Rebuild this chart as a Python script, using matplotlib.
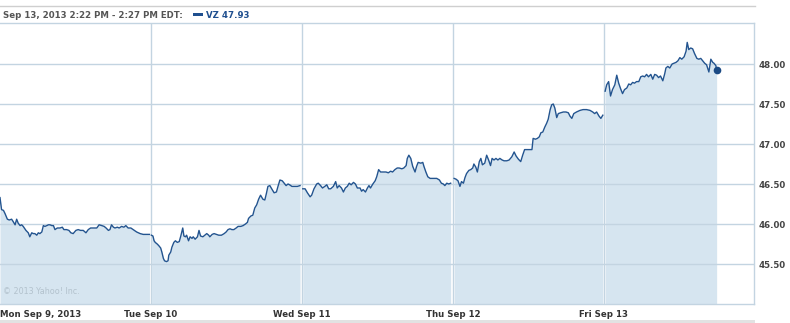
import matplotlib
matplotlib.use("Agg")
import matplotlib.pyplot as plt
from matplotlib.lines import Line2D
from matplotlib.patches import Rectangle

# ---- data: minutes after 9:30 open for each trading day, and VZ price ----
day_labels = ["Mon Sep 9, 2013", "Tue Sep 10", "Wed Sep 11", "Thu Sep 12", "Fri Sep 13"]
session_minutes = 390

mon_min = [0, 4, 9, 13, 19, 24, 30, 34, 39, 43, 47, 52, 56, 60, 67, 73, 77, 82, 86, 90,
           95, 99, 103, 108, 112, 116, 121, 125, 129, 134, 138, 142, 148, 155, 161, 165, 172, 178, 183, 189,
           196, 202, 208, 215, 222, 228, 234, 241, 250, 256, 263, 269, 274, 280, 284, 288, 293, 297, 303, 308,
           314, 320, 325, 331, 338, 344, 353, 362, 370, 379, 386]
mon_px = [46.33, 46.18, 46.17, 46.13, 46.06, 46.05, 46.06, 46.03, 45.99, 46.06,
          46.01, 45.98, 45.99, 45.97, 45.92, 45.89, 45.84, 45.89, 45.88, 45.88,
          45.86, 45.89, 45.88, 45.90, 45.98, 45.97, 45.98, 45.99, 45.99, 45.98,
          45.98, 45.93, 45.95, 45.95, 45.96, 45.93, 45.93, 45.92, 45.89, 45.88,
          45.92, 45.93, 45.92, 45.92, 45.89, 45.93, 45.95, 45.95, 45.95, 45.99,
          45.98, 45.97, 45.95, 45.92, 45.93, 45.99, 45.96, 45.95, 45.96, 45.95,
          45.97, 45.96, 45.98, 45.95, 45.95, 45.93, 45.90, 45.88, 45.87, 45.87, 45.87]

tue_min = [1, 5, 8, 11, 16, 20, 25, 28, 32, 35, 40, 44, 46, 51, 54, 59, 63, 68, 73, 77,
           82, 85, 89, 92, 97, 101, 106, 109, 114, 120, 124, 128, 134, 139, 144, 149, 152, 158, 163, 169,
           175, 182, 189, 194, 199, 204, 209, 214, 220, 225, 232, 238, 244, 249, 252, 258, 263, 268, 273, 278,
           283, 289, 294, 298, 302, 307, 313, 318, 324, 328, 333, 339, 344, 349, 354, 358, 364, 371, 378, 385]
tue_px = [45.86, 45.85, 45.79, 45.77, 45.75, 45.73, 45.70, 45.65, 45.57, 45.54,
          45.53, 45.54, 45.61, 45.65, 45.71, 45.77, 45.79, 45.77, 45.78, 45.85,
          45.95, 45.85, 45.84, 45.86, 45.79, 45.84, 45.82, 45.84, 45.81, 45.84,
          45.92, 45.85, 45.84, 45.86, 45.88, 45.86, 45.84, 45.87, 45.88, 45.87,
          45.86, 45.86, 45.88, 45.90, 45.93, 45.94, 45.93, 45.93, 45.95, 45.97,
          45.97, 45.98, 46.00, 46.02, 46.07, 46.10, 46.11, 46.20, 46.24, 46.31,
          46.36, 46.31, 46.30, 46.38, 46.47, 46.48, 46.43, 46.39, 46.40, 46.47,
          46.55, 46.54, 46.51, 46.48, 46.50, 46.49, 46.47, 46.47, 46.47, 46.48]

wed_min = [2, 8, 14, 21, 25, 31, 38, 42, 48, 53, 59, 64, 69, 74, 81, 87, 91, 96, 102, 107,
           112, 117, 122, 127, 133, 138, 143, 150, 154, 158, 164, 169, 173, 177, 183, 189, 193, 198, 203, 210,
           217, 223, 229, 234, 240, 246, 251, 258, 263, 269, 272, 276, 281, 286, 292, 296, 300, 307, 312, 315,
           320, 325, 331, 339, 348, 355, 360, 365, 369, 374, 379, 384]
wed_px = [46.44, 46.44, 46.39, 46.34, 46.36, 46.44, 46.50, 46.51, 46.48, 46.45,
          46.47, 46.49, 46.44, 46.44, 46.47, 46.53, 46.45, 46.48, 46.45, 46.40,
          46.45, 46.47, 46.51, 46.49, 46.52, 46.50, 46.45, 46.45, 46.41, 46.43,
          46.40, 46.45, 46.48, 46.45, 46.50, 46.54, 46.59, 46.68, 46.65, 46.65,
          46.65, 46.64, 46.66, 46.65, 46.68, 46.70, 46.70, 46.69, 46.70, 46.73,
          46.82, 46.86, 46.82, 46.72, 46.65, 46.72, 46.77, 46.76, 46.77, 46.72,
          46.65, 46.59, 46.57, 46.57, 46.57, 46.55, 46.51, 46.50, 46.48, 46.51, 46.50, 46.51]

thu_min = [3, 8, 13, 18, 22, 27, 31, 35, 41, 46, 51, 54, 59, 63, 68, 72, 76, 82, 87, 92,
           97, 101, 106, 111, 116, 121, 127, 132, 139, 145, 152, 158, 163, 169, 175, 180, 185, 192, 199, 204,
           207, 213, 218, 223, 227, 232, 237, 242, 246, 251, 255, 259, 263, 268, 272, 278, 285, 292, 298, 302,
           307, 312, 319, 328, 336, 345, 354, 361, 366, 371, 377, 382, 387]
thu_px = [46.57, 46.56, 46.54, 46.47, 46.53, 46.51, 46.58, 46.63, 46.67, 46.68,
          46.70, 46.75, 46.71, 46.65, 46.78, 46.82, 46.74, 46.76, 46.86, 46.80,
          46.73, 46.82, 46.80, 46.82, 46.80, 46.82, 46.80, 46.79, 46.79, 46.80,
          46.84, 46.90, 46.85, 46.81, 46.78, 46.86, 46.93, 46.93, 46.93, 46.93,
          47.07, 47.06, 47.07, 47.09, 47.14, 47.15, 47.21, 47.26, 47.31, 47.43,
          47.49, 47.50, 47.45, 47.33, 47.38, 47.39, 47.40, 47.40, 47.39, 47.35,
          47.32, 47.38, 47.40, 47.42, 47.43, 47.43, 47.42, 47.40, 47.38, 47.40,
          47.35, 47.32, 47.36]

fri_min = [3, 7, 12, 17, 22, 28, 33, 38, 43, 48, 53, 59, 64, 69, 74, 79, 84, 90, 95, 100,
           105, 110, 115, 121, 126, 131, 136, 141, 146, 152, 157, 160, 165, 170, 176, 181, 186, 191, 196, 201,
           207, 212, 215, 219, 224, 229, 234, 240, 245, 250, 255, 260, 265, 271, 276, 281, 284, 289, 291]
fri_px = [47.66, 47.74, 47.78, 47.60, 47.68, 47.74, 47.86, 47.76, 47.69, 47.63,
          47.68, 47.70, 47.75, 47.74, 47.77, 47.76, 47.78, 47.78, 47.84, 47.85,
          47.84, 47.87, 47.84, 47.87, 47.81, 47.87, 47.86, 47.83, 47.85, 47.79,
          47.88, 47.95, 47.97, 47.95, 48.00, 48.01, 48.02, 48.04, 48.08, 48.06,
          48.09, 48.16, 48.27, 48.18, 48.20, 48.19, 48.13, 48.07, 48.06, 48.07,
          48.04, 48.01, 47.99, 47.90, 48.06, 48.02, 48.01, 47.98, 47.93]

y_ticks = [45.50, 46.00, 46.50, 47.00, 47.50, 48.00]
header_text = "Sep 13, 2013 2:22 PM - 2:27 PM EDT:"
symbol_text = "VZ 47.93"
watermark = "\u00a9 2013 Yahoo! Inc."

days_min = [mon_min, tue_min, wed_min, thu_min, fri_min]
days_px = [mon_px, tue_px, wed_px, thu_px, fri_px]

# ---- styling ----
W, H = 790, 323
LINE = "#23548f"
FILL = "#d6e5f0"
GRID = "#c3d4e1"

fig = plt.figure(figsize=(W / 100, H / 100), dpi=100)
fig.patch.set_facecolor("white")
ax = fig.add_axes([0, (H - 304) / H, 754 / W, (304 - 23) / H])
ax.set_facecolor("white")

ax.set_xlim(0, 1947.5)
ax.set_ylim(45.0, 48.5125)

for d, (mins, prices) in enumerate(zip(days_min, days_px)):
    xs = [d * session_minutes + m for m in mins]
    ax.fill_between(xs, prices, 45.0, color=FILL, lw=0, zorder=1)
    ax.plot(xs, prices, color=LINE, lw=1.0, zorder=3, solid_joinstyle="round")

# last point marker
ax.plot([4 * session_minutes + fri_min[-1]], [fri_px[-1]], "o", color="#1b4a84",
        ms=5.5, zorder=4, mec="none")

# gridlines
for yv in y_ticks:
    ax.axhline(yv, color=GRID, lw=1.0, zorder=2)
for d in range(1, 5):
    ax.axvline(d * session_minutes, color=GRID, lw=1.0, zorder=0.5)

for s in ["left"]:
    ax.spines[s].set_visible(False)
for s in ["right", "bottom", "top"]:
    ax.spines[s].set_color(GRID)
    ax.spines[s].set_linewidth(1.0)

ax.yaxis.tick_right()
ax.set_yticks(y_ticks)
ax.set_yticklabels([f"{v:.2f}" for v in y_ticks], fontsize=6.2, fontweight="bold", color="#444444")
ax.tick_params(axis="y", length=0, pad=3)

ax.set_xticks([d * session_minutes for d in range(5)])
ax.set_xticklabels(day_labels, fontsize=6.2, fontweight="bold", color="#333333")
ax.tick_params(axis="x", length=0, pad=4)
ax.get_xticklabels()[0].set_ha("left")
ax.get_xticklabels()[0].set_x(0)
lab0 = ax.get_xticklabels()[0]

# watermark
ax.text(0.004, 0.028, watermark, transform=ax.transAxes, fontsize=5.8, color="#b3c2cd",
        ha="left", va="bottom", zorder=5)

# header
fig.text(3 / W, 1 - 15 / H, header_text, fontsize=6.2, fontweight="bold", color="#555555",
         ha="left", va="center")
fig.patches.append(Rectangle((193 / W, 1 - 16 / H), 10 / W, 3 / H, transform=fig.transFigure,
                             color="#1f4f8f", lw=0))
fig.text(206 / W, 1 - 15 / H, symbol_text, fontsize=6.2, fontweight="bold", color="#1f4f8f",
         ha="left", va="center")

# top rule and bottom strip
fig.lines.append(Line2D([0, 755 / W], [1 - 6 / H, 1 - 6 / H], transform=fig.transFigure,
                        color="#cfcfcf", lw=1.0))
fig.patches.append(Rectangle((0, 0), 755 / W, 3 / H, transform=fig.transFigure,
                             color="#e2e2e2", lw=0))

fig.savefig("out.png", dpi=100)
